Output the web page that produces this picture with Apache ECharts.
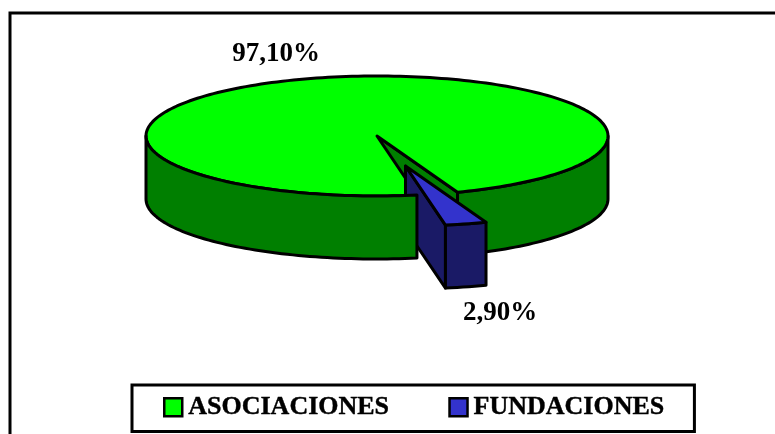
<!DOCTYPE html>
<html><head><meta charset="utf-8">
<style>html,body{margin:0;padding:0;background:#fff}#c{width:775px;height:434px}</style>
<script src="https://cdn.jsdelivr.net/npm/echarts@6/dist/echarts.min.js"></script>
</head><body><div id="c"></div>
<script>
var categories = ['ASOCIACIONES', 'FUNDACIONES'];
var values = [97.1, 2.9];
var topColors = ['#00ff00', '#3333cc'];
var wallColors = ['#007f00', '#1a1a66'];
var labelSpots = [[276, 54], [500, 313]];

var cx = 377, cy = 136, rx = 231, ry = 60, depth = 63;
var startDeg = 69.6;
var explode = [[0, 0], [28.5, 30]];
var FONT = '"Liberation Serif","Times New Roman",serif';

function sweep(i) {
  var total = values.reduce(function (a, b) { return a + b; }, 0);
  return values[i] / total * 360;
}
function range(i) {
  var fund = sweep(1);
  return i === 1 ? [startDeg, startDeg + fund] : [startDeg + fund, startDeg + fund + sweep(0)];
}
function pt(deg, o, dz) {
  var t = deg * Math.PI / 180;
  return [cx + o[0] + rx * Math.cos(t), cy + o[1] + ry * Math.sin(t) + (dz || 0)];
}
function arc(a, b, o, dz) {
  var out = [], n = Math.max(2, Math.ceil(Math.abs(b - a) / 1.5));
  for (var k = 0; k <= n; k++) out.push(pt(a + (b - a) * k / n, o, dz));
  return out;
}
function poly(points, fill, z2) {
  return {
    type: 'polygon', z2: z2,
    shape: { points: points },
    style: { fill: fill, stroke: '#000', lineWidth: 3, lineJoin: 'round' }
  };
}
function wall(a, b, o, fill, z2) {
  return poly(arc(a, b, o, 0).concat(arc(b, a, o, depth)), fill, z2);
}
function cutWall(deg, o, fill, z2) {
  var c = [cx + o[0], cy + o[1]];
  var p = pt(deg, o, 0);
  return poly([c, p, [p[0], p[1] + depth], [c[0], c[1] + depth]], fill, z2);
}
function fmt(v) { return v.toFixed(2).replace('.', ',') + '%'; }

function renderSlice(i) {
  return function () {
    var r = range(i), o = explode[i], kids = [];
    var c = [cx + o[0], cy + o[1]];
    if (i === 0) {
      kids.push(cutWall(r[1] - 360, o, wallColors[0], 1));
      kids.push(wall(0, r[1] - 360, o, wallColors[0], 2));
      kids.push(poly([c].concat(arc(r[0], r[1], o, 0)), topColors[0], 3));
      kids.push(wall(r[0], 180, o, wallColors[0], 9));
    } else {
      kids.push(cutWall(r[1], o, wallColors[1], 5));
      kids.push(wall(r[0], r[1], o, wallColors[1], 6));
      kids.push(poly([c].concat(arc(r[0], r[1], o, 0)), topColors[1], 7));
    }
    kids.push({
      type: 'text', z2: 10,
      style: {
        x: labelSpots[i][0], y: labelSpots[i][1], text: fmt(values[i]),
        font: 'bold 27px ' + FONT, fill: '#000', align: 'center', verticalAlign: 'middle'
      }
    });
    return { type: 'group', children: kids };
  };
}

var chart = echarts.init(document.getElementById('c'), null, { renderer: 'canvas' });
chart.setOption({
  animation: false,
  backgroundColor: '#fff',
  graphic: [{
    type: 'rect', silent: true, z: -1,
    shape: { x: 10, y: 13, width: 800, height: 460 },
    style: { fill: 'none', stroke: '#000', lineWidth: 3 }
  }],
  legend: {
    left: 132, top: 385, orient: 'horizontal',
    padding: [9, 30, 11, 31],
    itemGap: 59, itemWidth: 18, itemHeight: 18,
    borderColor: '#000', borderWidth: 3, backgroundColor: '#fff',
    data: categories.map(function (n, i) {
      return { name: n, icon: 'rect', itemStyle: { color: topColors[i], borderColor: '#000', borderWidth: 2.5 } };
    }),
    textStyle: {
      fontFamily: FONT, fontWeight: 'bold', fontSize: 26, color: '#000',
      textBorderColor: '#000', textBorderWidth: 0.4, padding: [0, 0, 0, 1]
    }
  },
  series: categories.map(function (n, i) {
    return {
      type: 'custom', name: n, coordinateSystem: 'none', silent: true,
      itemStyle: { color: topColors[i] },
      data: [[values[i]]],
      renderItem: renderSlice(i)
    };
  })
});
</script></body></html>
